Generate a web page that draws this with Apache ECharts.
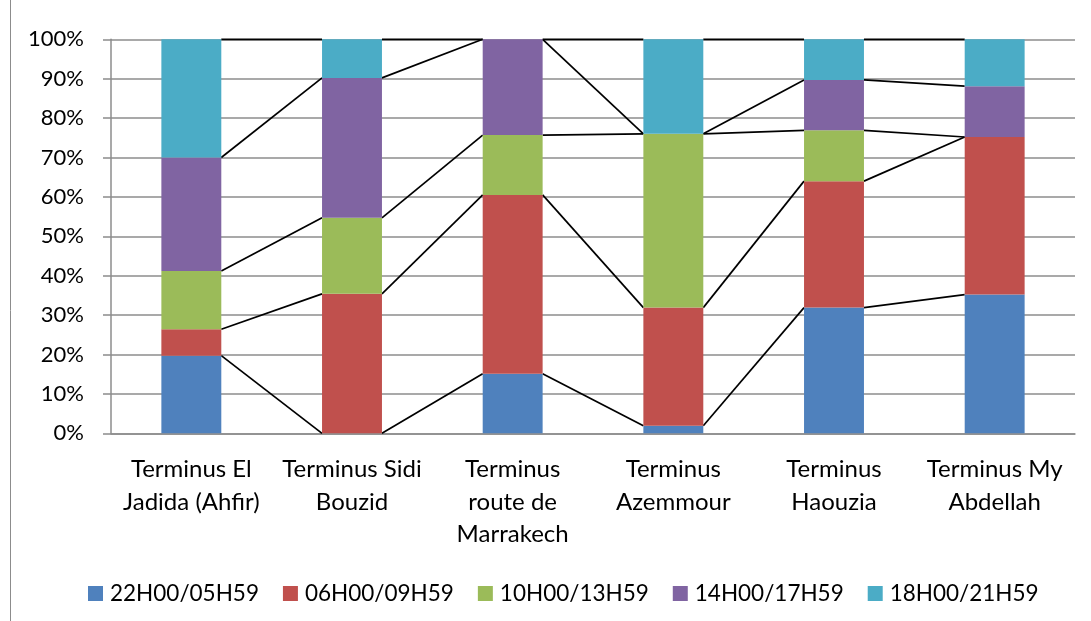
<!DOCTYPE html>
<html>
<head>
<meta charset="utf-8">
<script src="https://cdn.jsdelivr.net/npm/echarts@6/dist/echarts.min.js"></script>
<style>html,body{margin:0;padding:0;background:#fff}#c{width:1091px;height:621px}</style>
</head>
<body>
<div id="c"></div>
<script>
var categories = ['Terminus El\nJadida (Ahfir)', 'Terminus Sidi\nBouzid', 'Terminus\nroute de\nMarrakech', 'Terminus\nAzemmour', 'Terminus\nHaouzia', 'Terminus My\nAbdellah'];
var seriesNames = ['22H00/05H59', '06H00/09H59', '10H00/13H59', '14H00/17H59', '18H00/21H59'];
var s22_05 = [19.7, 0, 15.1, 1.9, 31.9, 35.2];
var s06_09 = [6.7, 35.4, 45.4, 30.0, 32.1, 40.0];
var s10_13 = [14.8, 19.3, 15.2, 44.1, 12.9, 0];
var s14_17 = [28.8, 35.5, 24.3, 0, 12.8, 12.9];
var s18_21 = [30.0, 9.8, 0, 24.0, 10.3, 11.9];
var yTicks = [0, 10, 20, 30, 40, 50, 60, 70, 80, 90, 100];

var colors = ['#4F81BD', '#C0504D', '#9BBB59', '#8064A2', '#4BACC6'];
var allSeries = [s22_05, s06_09, s10_13, s14_17, s18_21];
var BAR_FRAC = 0.373;

var cum = categories.map(function (c, i) {
  var acc = 0, out = [];
  allSeries.forEach(function (s) { acc += s[i]; out.push(acc); });
  return out;
});

var series = allSeries.map(function (d, k) {
  return {
    name: seriesNames[k], type: 'bar', stack: 'total', data: d,
    barWidth: (BAR_FRAC * 100) + '%',
    itemStyle: { color: colors[k] }, z: 3
  };
});

series.push({
  type: 'custom',
  data: categories.slice(0, categories.length - 1).map(function (c, i) { return [i, 0]; }),
  z: 2,
  silent: true,
  renderItem: function (params, api) {
    var i = api.value(0);
    var band = api.size([1, 0])[0];
    var half = band * BAR_FRAC / 2;
    var children = [];
    for (var s = 0; s < allSeries.length; s++) {
      var p1 = api.coord([i, cum[i][s]]);
      var p2 = api.coord([i + 1, cum[i + 1][s]]);
      children.push({
        type: 'line',
        shape: { x1: p1[0] + half, y1: p1[1], x2: p2[0] - half, y2: p2[1] },
        style: { stroke: '#000', lineWidth: 1.7 }
      });
    }
    return { type: 'group', children: children };
  }
});

var chart = echarts.init(document.getElementById('c'), null, { renderer: 'canvas' });
chart.setOption({
  animation: false,
  backgroundColor: '#fff',
  graphic: [{
    type: 'rect', left: 8, top: -5, silent: true,
    shape: { x: 0, y: 0, width: 1200, height: 700 },
    style: { fill: 'none', stroke: '#8c8c8c', lineWidth: 1 }
  }],
  legend: {
    data: seriesNames,
    left: 83, top: 577,
    itemWidth: 15, itemHeight: 15, itemGap: 24,
    icon: 'rect',
    textStyle: { color: '#000', fontFamily: 'Lato', fontSize: 22.5, padding: [0, 0, 0, 2] }
  },
  grid: { left: 111, right: 16, top: 39.3, bottom: 187.7, containLabel: false },
  xAxis: {
    type: 'category', data: categories,
    axisLine: { lineStyle: { color: '#8c8c8c', width: 1.5 } },
    axisTick: { show: false },
    axisLabel: { interval: 0, color: '#000', fontFamily: 'Lato', fontSize: 24, lineHeight: 32.5, margin: 20 }
  },
  yAxis: {
    type: 'value', min: 0, max: 100, interval: 10,
    axisLine: { show: true, lineStyle: { color: '#8c8c8c', width: 1.5 } },
    axisTick: { show: true, length: 8, lineStyle: { color: '#8c8c8c', width: 1.5 } },
    splitLine: { lineStyle: { color: '#8c8c8c', width: 1.5 } },
    axisLabel: {
      color: '#000', fontFamily: 'Lato', fontSize: 22, margin: 27,
      formatter: function (v) { return yTicks.indexOf(v) >= 0 ? v + '%' : ''; }
    }
  },
  series: series
});
</script>
</body>
</html>
